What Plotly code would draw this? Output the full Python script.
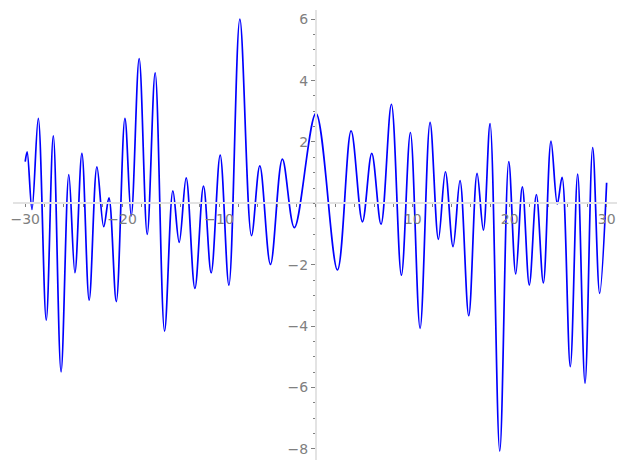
import plotly.graph_objects as go

# Curve values (extrema and endpoints)
x_pts = [-30, -29.8, -29.3, -28.65, -27.83, -27.1, -26.3, -25.5, -24.87, -24.15,
         -23.4, -22.6, -21.9, -21.36, -20.6, -19.71, -19.06, -18.24, -17.41, -16.59,
         -15.62, -14.76, -14.11, -13.39, -12.49, -11.6, -10.81, -9.88, -8.98, -7.85,
         -6.65, -5.79, -4.69, -3.46, -2.22, 0.0, 2.22, 3.63, 4.8, 5.76,
         6.72, 7.79, 8.82, 9.75, 10.75, 11.78, 12.64, 13.36, 14.15, 14.87,
         15.77, 16.63, 17.28, 17.97, 18.97, 19.9, 20.62, 21.3, 22.02, 22.75,
         23.47, 24.26, 24.91, 25.4, 26.25, 27.01, 27.77, 28.56, 29.28, 30]
y_pts = [1.36, 1.68, -0.2, 2.77, -3.8, 2.2, -5.49, 0.94, -2.26, 1.63,
         -3.15, 1.19, -0.76, 0.18, -3.2, 2.77, -0.41, 4.72, -1.01, 4.25,
         -4.16, 0.41, -1.27, 0.83, -2.77, 0.56, -2.26, 1.57, -2.66, 6.0,
         -1.05, 1.22, -1.99, 1.44, -0.79, 2.93, -2.17, 2.36, -0.6, 1.63,
         -0.68, 3.23, -2.34, 2.31, -4.07, 2.64, -1.17, 1.03, -1.41, 0.74,
         -3.66, 0.98, -0.87, 2.6, -8.07, 1.36, -2.3, 0.54, -2.66, 0.29,
         -2.59, 2.03, -0.02, 0.85, -5.32, 0.95, -5.86, 1.82, -2.93, 0.67]

x_ticks = [-30, -20, -10, 10, 20, 30]
y_ticks = [-8, -6, -4, -2, 2, 4, 6]

x_range = [-31.26, 31.07]
y_range = [-8.36, 6.30]


def lab(v):
    return str(v).replace("-", "\u2212")


fig = go.Figure()
fig.add_trace(go.Scatter(x=x_pts, y=y_pts, mode="lines",
                         line=dict(color="#0000ff", width=1.7, shape="spline", smoothing=1.0),
                         hoverinfo="skip"))

axis_color = "#e3e3e3"
tick_color = "#808080"
font = dict(family="DejaVu Sans", size=14, color="#808080")

fig.update_layout(
    width=627, height=470,
    margin=dict(l=13, r=10, t=10, b=10),
    paper_bgcolor="white", plot_bgcolor="white",
    showlegend=False,
    xaxis=dict(range=x_range, anchor="free", automargin=False,
               position=(0 - y_range[0]) / (y_range[1] - y_range[0]),
               showline=True, linecolor=axis_color, linewidth=2,
               showgrid=False, zeroline=False,
               tickmode="array", tickvals=x_ticks, ticktext=[lab(v) for v in x_ticks],
               ticks="outside", ticklen=3, tickwidth=1, tickcolor=tick_color,
               minor=dict(dtick=2, tick0=0, ticks="outside", ticklen=3, tickwidth=1,
                          tickcolor=tick_color, showgrid=False),
               tickfont=font),
    yaxis=dict(range=y_range, anchor="free", automargin=False,
               position=(0 - x_range[0]) / (x_range[1] - x_range[0]),
               showline=True, linecolor=axis_color, linewidth=2,
               showgrid=False, zeroline=False,
               tickmode="array", tickvals=y_ticks, ticktext=[lab(v) for v in y_ticks],
               ticks="outside", ticklen=4, tickwidth=1, tickcolor=tick_color,
               minor=dict(dtick=0.5, tick0=0, ticks="outside", ticklen=2, tickwidth=1,
                          tickcolor=tick_color, showgrid=False),
               tickfont=font),
)

fig.write_html("out.html", config={"displayModeBar": False},
               post_script="document.body.style.margin='0';document.body.style.overflow='hidden';")
